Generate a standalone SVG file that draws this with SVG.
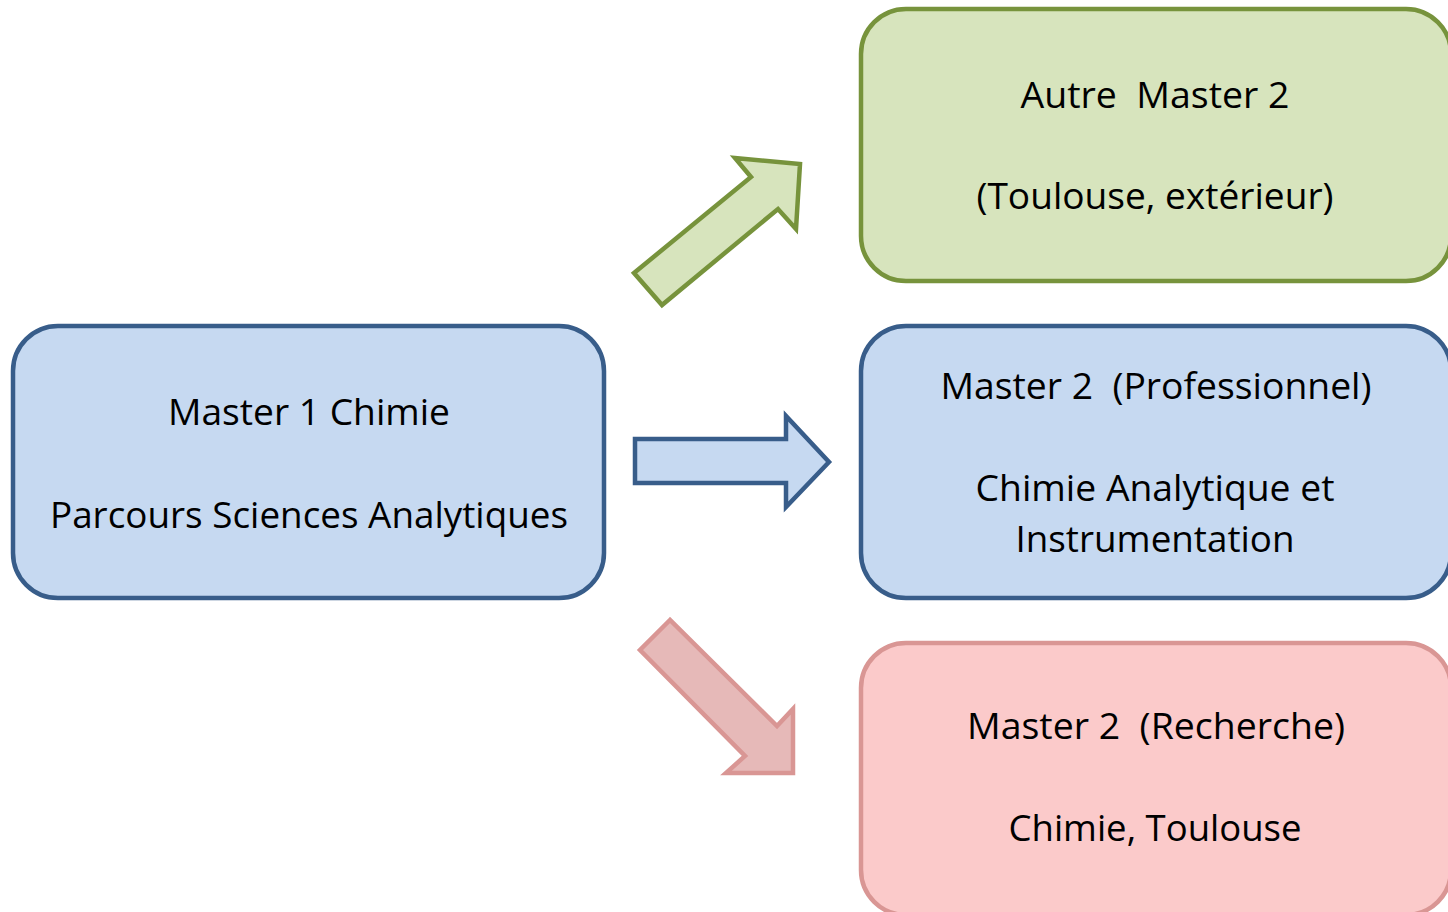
<svg xmlns="http://www.w3.org/2000/svg" width="1448" height="912" viewBox="0 0 1448 912">
<style>
.t{font-family:"Open Sans","Liberation Sans",sans-serif;font-size:37px;fill:#000;text-anchor:middle;white-space:pre}
.blue{fill:#C6D9F1;stroke:#385D8A;stroke-width:4.5}
.green{fill:#D7E4BD;stroke:#77933C;stroke-width:4.5}
.red{fill:#FBCACA;stroke:#D99694;stroke-width:4.5}
.redarrow{fill:#E6B9B8;stroke:#D99694;stroke-width:4.5}
</style>
<rect width="1448" height="912" fill="#fff"/>
<g id="connectors" stroke-linejoin="miter">
<polygon class="green" points="634,273 751,177 735,158 800,164 796,229 778,209 662,305"/>
<polygon class="blue" points="635,439 786,439 786,416 829,462 786,507 786,483 635,483"/>
<polygon class="redarrow" points="670,620 640,650 745,756 726,773 793,773 793,709 777,726"/>
</g>
<g id="m1">
<rect class="blue" x="13" y="326" width="591" height="272" rx="45"/>
<text class="t" x="309" y="425" textLength="282" lengthAdjust="spacingAndGlyphs">Master 1 Chimie</text>
<text class="t" x="309" y="528" textLength="518" lengthAdjust="spacingAndGlyphs">Parcours Sciences Analytiques</text>
</g>
<g id="autre">
<rect class="green" x="861" y="9" width="590" height="272" rx="45"/>
<text class="t" x="1155" y="108" xml:space="preserve" textLength="269" lengthAdjust="spacingAndGlyphs">Autre  Master 2</text>
<text class="t" x="1155" y="209" textLength="357" lengthAdjust="spacingAndGlyphs">(Toulouse, extérieur)</text>
</g>
<g id="pro">
<rect class="blue" x="861" y="326" width="590" height="272" rx="45"/>
<text class="t" x="1156" y="399" xml:space="preserve" textLength="431" lengthAdjust="spacingAndGlyphs">Master 2  (Professionnel)</text>
<text class="t" x="1155" y="501" textLength="359" lengthAdjust="spacingAndGlyphs">Chimie Analytique et</text>
<text class="t" x="1155" y="552" textLength="279" lengthAdjust="spacingAndGlyphs">Instrumentation</text>
</g>
<g id="recherche">
<rect class="red" x="861" y="643" width="590" height="272" rx="45"/>
<text class="t" x="1156" y="739" xml:space="preserve" textLength="378" lengthAdjust="spacingAndGlyphs">Master 2  (Recherche)</text>
<text class="t" x="1155" y="841" textLength="293" lengthAdjust="spacingAndGlyphs">Chimie, Toulouse</text>
</g>
</svg>
